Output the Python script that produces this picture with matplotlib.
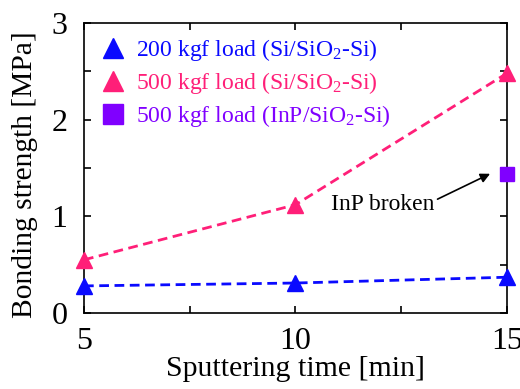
import matplotlib
matplotlib.use("Agg")
import matplotlib.pyplot as plt
from matplotlib.ticker import MultipleLocator
from matplotlib.lines import Line2D

plt.rcParams['font.family'] = ['Liberation Serif', 'DejaVu Serif']
plt.rcParams['mathtext.fontset'] = 'custom'
plt.rcParams['mathtext.rm'] = 'Liberation Serif'
plt.rcParams['mathtext.it'] = 'Liberation Serif:italic'

time = [5, 10, 15]
load200_si = [0.28, 0.31, 0.37]
load500_si = [0.55, 1.12, 2.48]
time_inp = [15]
load500_inp = [1.44]

labels = [r'200 kgf load (Si/SiO$_2$-Si)',
          r'500 kgf load (Si/SiO$_2$-Si)',
          r'500 kgf load (InP/SiO$_2$-Si)']
blue = '#0a0aff'
pink = '#ff1f78'
purple = '#8000ff'

W, H = 520, 389
fig = plt.figure(figsize=(W / 100, H / 100), dpi=100)
ax = fig.add_axes([0.1615, 0.1954, 0.8135, 0.7456])

ax.plot(time, load200_si, color=blue, ls=(0, (3.5, 2)), lw=2, marker='^',
        ms=12, clip_on=False, zorder=3)
ax.plot(time, load500_si, color=pink, ls=(0, (3.5, 2)), lw=2, marker='^',
        ms=12, clip_on=False, zorder=3)
ax.plot(time_inp, load500_inp, color=purple, ls='none', marker='s',
        ms=10, clip_on=False, zorder=3)

ax.set_xlim(5, 15)
ax.set_ylim(0, 3)
ax.xaxis.set_major_locator(MultipleLocator(5))
ax.xaxis.set_minor_locator(MultipleLocator(2.5))
ax.yaxis.set_major_locator(MultipleLocator(1))
ax.yaxis.set_minor_locator(MultipleLocator(0.5))
ax.tick_params(which='both', direction='in', top=True, right=True,
               labelsize=23, width=1.2, length=5)
ax.tick_params(axis='x', pad=10)
ax.tick_params(axis='y', pad=12)
for s in ax.spines.values():
    s.set_linewidth(1.2)

ax.set_xlabel('Sputtering time [min]', fontsize=21.5, labelpad=0)

# y label: fit to the reference's pixel extent (top 32, bottom 318, left 12)
ylab = fig.text(0, 0, 'Bonding strength [MPa]', fontsize=20, rotation=90,
                ha='left', va='bottom')
fig.canvas.draw()
r = fig.canvas.get_renderer()
bb = ylab.get_window_extent(r)
ylab.set_fontsize(20 * (318 - 32) / bb.height)
fig.canvas.draw()
bb = ylab.get_window_extent(r)
x0 = 12 - bb.x0
y0 = (H - 318) - bb.y0
ylab.set_position((x0 / W, y0 / H))

handles = [Line2D([], [], color=blue, marker='^', ls='none', ms=15),
           Line2D([], [], color=pink, marker='^', ls='none', ms=15),
           Line2D([], [], color=purple, marker='s', ls='none', ms=14)]
leg = ax.legend(handles, labels, loc='upper left', bbox_to_anchor=(-0.005, 1.017),
                frameon=False, fontsize=17, handlelength=1.0, handletextpad=0.5,
                labelspacing=0.3, borderaxespad=0.4,
                labelcolor=[blue, pink, purple])

ax.annotate('InP broken', xy=(14.6, 1.44), xytext=(12.07, 1.12),
            fontsize=17, ha='center', va='center',
            arrowprops=dict(arrowstyle='-|>', color='black', lw=1.2,
                            shrinkA=0, shrinkB=0, mutation_scale=14,
                            relpos=(1.0, 0.7)))

fig.savefig('out.png', dpi=100)
